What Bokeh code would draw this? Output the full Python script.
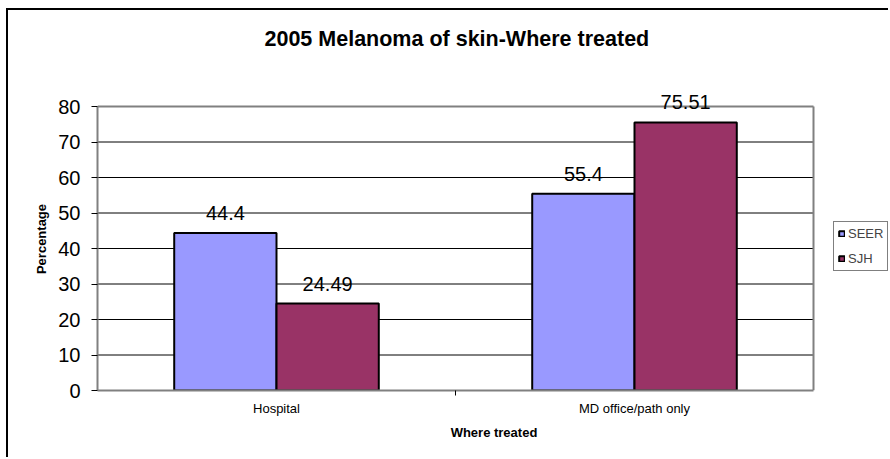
from bokeh.plotting import figure
from bokeh.models import (ColumnDataSource, Range1d, FixedTicker, LabelSet,
                          Legend, LegendItem, Title)
from bokeh.core.properties import value
from bokeh.embed import file_html
from bokeh.resources import INLINE

# ---- data ----
categories = ["Hospital", "MD office/path only"]
series_names = ["SEER", "SJH"]
seer = [44.4, 55.4]
sjh = [24.49, 75.51]
seer_labels = ["44.4", "55.4"]
sjh_labels = ["24.49", "75.51"]
y_ticks = [0, 10, 20, 30, 40, 50, 60, 70, 80]
colors = ["#9999FF", "#993366"]

FONT = "Liberation Sans"
bar_w = 1.0 / 3.5            # Excel gap width 150%
n_cat = len(categories)
y_max = y_ticks[-1]
px_x = 358.0                 # pixels per category
px_y = 3.55                  # pixels per percentage unit
y_head = 19 / px_y           # headroom for the top value label
x_extra = 77 / px_x          # room to the right of the plot area (legend)

idx = list(range(n_cat))
src_seer = ColumnDataSource(dict(x=[i + 0.5 - bar_w / 2 for i in idx], top=seer, lab=seer_labels))
src_sjh = ColumnDataSource(dict(x=[i + 0.5 + bar_w / 2 for i in idx], top=sjh, lab=sjh_labels))

p = figure(width=882, height=449, output_backend="svg", toolbar_location=None, title=None,
           x_range=Range1d(0, n_cat + x_extra), y_range=Range1d(0, y_max + y_head),
           min_border_left=89, min_border_right=0, min_border_top=77, min_border_bottom=69)
p.styles = {"border-top": "2px solid black", "border-left": "2px solid black",
            "margin-left": "6px", "margin-top": "8px"}

# spacer + title (later-added titles sit farther from the frame)
p.add_layout(Title(text=" ", text_font_size="1px", standoff=34), "above")
p.add_layout(Title(text="2005 Melanoma of skin-Where treated", text_font=FONT,
                   text_font_size="21.5px", text_font_style="bold", text_color="black",
                   align="left", offset=167, standoff=0), "above")

# gridlines (plot area only)
grid_y = y_ticks[1:-1]
p.segment(x0=[0] * len(grid_y), x1=[n_cat] * len(grid_y), y0=grid_y, y1=grid_y,
          line_color="black", line_width=1)
# plot-area border: top and right
p.segment(x0=[0, n_cat], x1=[n_cat, n_cat], y0=[y_max, 0], y1=[y_max, y_max],
          line_color="#808080", line_width=2)

r1 = p.vbar(x="x", top="top", width=bar_w, bottom=0, source=src_seer,
            fill_color=colors[0], line_color="black", line_width=2)
r2 = p.vbar(x="x", top="top", width=bar_w, bottom=0, source=src_sjh,
            fill_color=colors[1], line_color="black", line_width=2)

for src in (src_seer, src_sjh):
    p.add_layout(LabelSet(x="x", y="top", text="lab", source=src, y_offset=20,
                          text_align="center", text_baseline="middle",
                          text_font=value(FONT), text_font_size=value("20px"),
                          text_color="black"))

# x axis
xa = p.xaxis[0]
xa.bounds = (0, n_cat)
xa.ticker = FixedTicker(ticks=[i + 0.5 for i in idx], minor_ticks=[i for i in range(1, n_cat)])
xa.major_label_overrides = {i + 0.5: c for i, c in zip(idx, categories)}
xa.major_tick_line_color = None
xa.major_tick_out = 0
xa.major_tick_in = 0
xa.minor_tick_line_color = "black"
xa.minor_tick_out = 5
xa.minor_tick_in = 0
xa.major_label_text_font = FONT
xa.major_label_text_font_size = "13px"
xa.major_label_text_color = "black"
xa.major_label_standoff = 5
xa.axis_label = "Where treated"
xa.axis_label_text_font = FONT
xa.axis_label_text_font_size = "13px"
xa.axis_label_text_font_style = "bold"
xa.axis_label_text_color = "black"
xa.axis_label_standoff = 6
xa.axis_line_color = "#808080"
xa.axis_line_width = 2

# y axis
ya = p.yaxis[0]
ya.ticker = FixedTicker(ticks=y_ticks)
ya.bounds = (0, y_max)
ya.minor_tick_line_color = None
ya.major_tick_out = 6
ya.major_tick_in = 0
ya.major_tick_line_color = "black"
ya.major_label_text_font = FONT
ya.major_label_text_font_size = "20px"
ya.major_label_text_color = "black"
ya.major_label_standoff = 11
ya.axis_label = "Percentage"
ya.axis_label_text_font = FONT
ya.axis_label_text_font_size = "13px"
ya.axis_label_text_font_style = "bold"
ya.axis_label_text_color = "black"
ya.axis_label_standoff = 6
ya.axis_line_color = "#808080"
ya.axis_line_width = 2

p.xgrid.grid_line_color = None
p.ygrid.grid_line_color = None

p.outline_line_color = None
p.background_fill_color = "white"
p.border_fill_color = "white"

legend = Legend(items=[LegendItem(label=series_names[0], renderers=[r1]),
                       LegendItem(label=series_names[1], renderers=[r2])],
                location=(736, 119), orientation="vertical",
                glyph_width=7, glyph_height=7, label_standoff=3,
                label_text_font=FONT, label_text_font_size="13px",
                label_height=13, spacing=10, padding=4, margin=0,
                border_line_color="black", border_line_width=1,
                background_fill_color="white", background_fill_alpha=1)
p.add_layout(legend, "center")

open("out.html", "w").write(file_html(p, INLINE))
